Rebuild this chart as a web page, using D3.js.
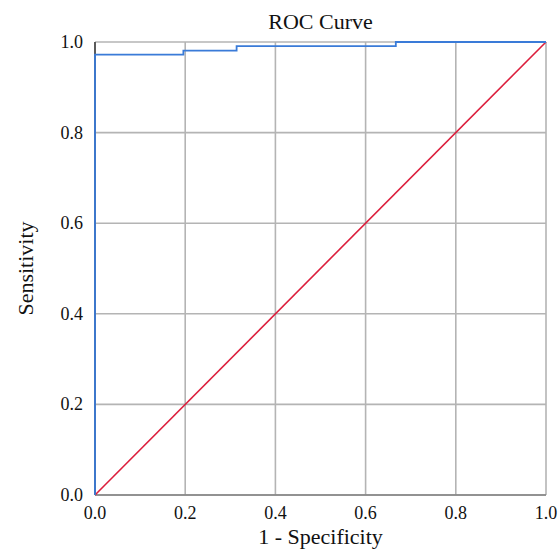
<!DOCTYPE html>
<html>
<head>
<meta charset="utf-8">
<script src="https://cdn.jsdelivr.net/npm/d3@7"></script>
<style>
html,body{margin:0;padding:0;background:#fff;}
svg{display:block;}
text{font-family:"Liberation Serif","Times New Roman",serif;fill:#111;}
</style>
</head>
<body>
<svg id="chart" width="559" height="553"></svg>
<script>
const fpr = [0, 0, 0.196, 0.196, 0.314, 0.314, 0.667, 0.667, 1.0];
const tpr = [0, 0.972, 0.972, 0.981, 0.981, 0.991, 0.991, 1.0, 1.0];
const refLine = [0, 1];
const xTicks = [0, 0.2, 0.4, 0.6, 0.8, 1.0];
const yTicks = [0, 0.2, 0.4, 0.6, 0.8, 1.0];
const title = "ROC Curve";
const xLabel = "1 - Specificity";
const yLabel = "Sensitivity";

const svg = d3.select("#chart");
const m = {l: 95, r: 13, t: 42, b: 58};
const W = 559, H = 553;
const x = d3.scaleLinear().domain([0, 1]).range([m.l, W - m.r]);
const y = d3.scaleLinear().domain([0, 1]).range([H - m.b, m.t]);

// grid
const g = svg.append("g");
g.selectAll(".vg").data(xTicks).join("line")
  .attr("x1", d => x(d)).attr("x2", d => x(d))
  .attr("y1", y(0)).attr("y2", y(1))
  .attr("stroke", "#b4b4b4").attr("stroke-width", 1.6);
g.selectAll(".hg").data(yTicks).join("line")
  .attr("y1", d => y(d)).attr("y2", d => y(d))
  .attr("x1", x(0)).attr("x2", x(1))
  .attr("stroke", "#b4b4b4").attr("stroke-width", 1.6);

// axes lines
svg.append("line").attr("x1", x(0)).attr("x2", x(1)).attr("y1", y(0)).attr("y2", y(0))
  .attr("stroke", "#808080").attr("stroke-width", 1.6);
svg.append("line").attr("x1", x(0)).attr("x2", x(0)).attr("y1", y(0)).attr("y2", y(1))
  .attr("stroke", "#404040").attr("stroke-width", 1.6);

// tick labels
svg.selectAll(".xt").data(xTicks).join("text")
  .attr("x", d => x(d)).attr("y", y(0) + 24)
  .attr("text-anchor", "middle").attr("font-size", 18)
  .text(d => d3.format(".1f")(d));
svg.selectAll(".yt").data(yTicks).join("text")
  .attr("x", x(0) - 12).attr("y", d => y(d) + 6)
  .attr("text-anchor", "end").attr("font-size", 18)
  .text(d => d3.format(".1f")(d));

// reference diagonal
svg.append("path")
  .attr("d", d3.line()(refLine.map(v => [x(v), y(v)])))
  .attr("stroke", "#dc1e3c").attr("stroke-width", 1.6).attr("fill", "none");

// ROC curve
svg.append("path")
  .attr("d", d3.line().x((d, i) => x(fpr[i])).y((d, i) => y(tpr[i]))(fpr))
  .attr("stroke", "#3a7bd8").attr("stroke-width", 1.8).attr("fill", "none");

// titles
svg.append("text").attr("x", (x(0) + x(1)) / 2).attr("y", 29)
  .attr("text-anchor", "middle").attr("font-size", 22).text(title);
svg.append("text").attr("x", (x(0) + x(1)) / 2).attr("y", 544)
  .attr("text-anchor", "middle").attr("font-size", 22).text(xLabel);
svg.append("text")
  .attr("transform", `translate(33,${(y(0) + y(1)) / 2}) rotate(-90)`)
  .attr("text-anchor", "middle").attr("font-size", 22).text(yLabel);
</script>
</body>
</html>
